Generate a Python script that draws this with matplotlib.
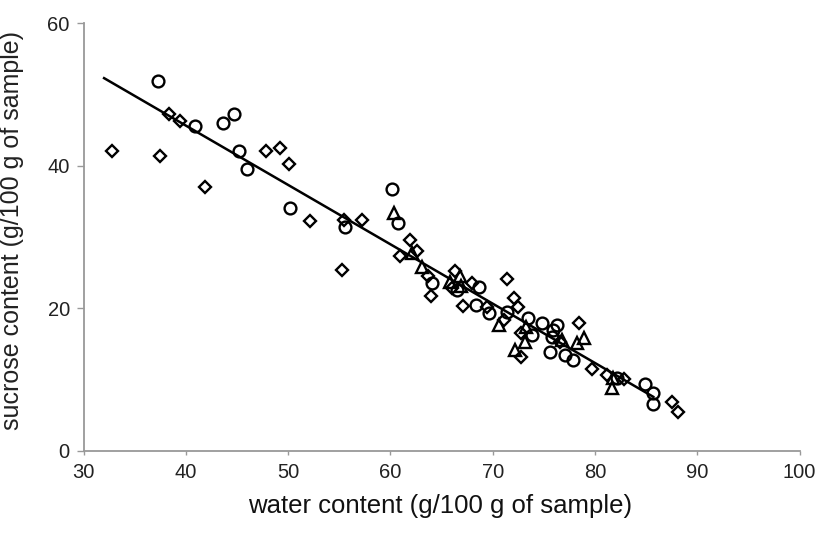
import numpy as np
import matplotlib.pyplot as plt

plt.rcParams['font.family'] = ['Liberation Sans', 'DejaVu Sans']

# 圆形标记数据 (water, sucrose)
circle_x = [37.3, 40.9, 43.6, 44.7, 45.2, 46.0, 50.2, 55.6, 60.2, 60.7, 64.1, 66.5,
            68.7, 68.4, 69.6, 71.4, 73.5, 73.8, 74.8, 75.9, 76.3, 75.8, 75.6, 77.1,
            77.9, 82.2, 84.9, 85.7, 85.7]
circle_y = [51.9, 45.5, 46.0, 47.2, 42.1, 39.6, 34.1, 31.4, 36.7, 32.0, 23.6, 22.6,
            23.0, 20.5, 19.3, 19.5, 18.6, 16.3, 17.9, 17.0, 17.7, 16.0, 13.9, 13.5,
            12.8, 10.2, 9.4, 8.2, 6.6]

# 菱形标记数据
diamond_x = [32.8, 37.5, 38.3, 39.4, 41.9, 47.8, 49.2, 50.1, 52.1, 55.3, 55.5, 57.2,
             60.9, 61.9, 62.6, 63.7, 64.0, 66.3, 66.0, 67.1, 68.0, 69.4, 71.4, 72.1,
             72.5, 71.1, 72.8, 72.8, 76.6, 78.4, 79.7, 81.2, 82.8, 87.5, 88.1]
diamond_y = [42.1, 41.4, 47.2, 46.3, 37.0, 42.1, 42.5, 40.2, 32.3, 25.4, 32.4, 32.4,
             27.3, 29.6, 28.0, 24.5, 21.7, 25.2, 22.9, 20.3, 23.5, 20.2, 24.1, 21.5,
             20.2, 18.4, 16.5, 13.2, 15.3, 17.9, 11.5, 10.7, 10.1, 6.8, 5.4]

# 三角形标记数据
tri_x = [60.3, 62.1, 63.1, 66.8, 65.8, 66.9, 70.6, 73.3, 72.2, 73.2, 76.8, 78.2,
         78.9, 81.8, 81.7]
tri_y = [33.3, 27.7, 25.8, 24.5, 23.7, 23.1, 17.7, 17.4, 14.2, 15.3, 15.6, 15.1,
         15.8, 10.2, 8.8]

# 回归线
fit_slope = -0.832
fit_intercept = 78.9
fit_xrange = [32.0, 85.7]

fig = plt.figure(figsize=(8.2, 5.36), dpi=100)
ax = fig.add_axes([0.102, 0.1586, 0.873, 0.7984])

lx = np.array(fit_xrange)
ax.plot(lx, fit_intercept + fit_slope * lx, color='black', lw=1.8, zorder=3)

ax.plot(diamond_x, diamond_y, 'D', ms=6, mfc='none', mec='black', mew=1.7, zorder=4)
ax.plot(circle_x, circle_y, 'o', ms=8.5, mfc='none', mec='black', mew=1.7, zorder=4)
ax.plot(tri_x, tri_y, '^', ms=8, mfc='none', mec='black', mew=1.7, zorder=4)

ax.set_xlim(30, 100)
ax.set_ylim(0, 60)
ax.set_xticks(range(30, 101, 10))
ax.set_yticks(range(0, 61, 20))

for s in ['top', 'right']:
    ax.spines[s].set_visible(False)
for s in ['left', 'bottom']:
    ax.spines[s].set_color('#999999')
    ax.spines[s].set_linewidth(1.3)
ax.tick_params(axis='both', colors='#999999', labelcolor='#222222', labelsize=14.5, width=1)
ax.tick_params(axis='y', length=5, pad=5)
ax.tick_params(axis='x', length=3, pad=6)

ax.set_xlabel('water content (g/100 g of sample)', fontsize=18.5, color='#111111')
ax.set_ylabel('sucrose content (g/100 g of sample)', fontsize=18, color='#222222')
ax.xaxis.set_label_coords(0.498, -0.10)
ax.yaxis.set_label_coords(-0.083, 0.516)

fig.savefig('out.png', dpi=100)
